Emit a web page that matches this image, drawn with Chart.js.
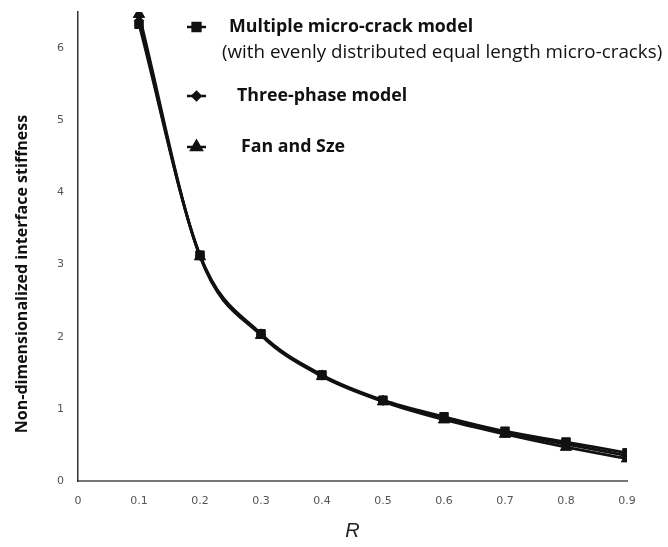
<!DOCTYPE html>
<html>
<head>
<meta charset="utf-8">
<script src="https://cdn.jsdelivr.net/npm/chart.js@4/dist/chart.umd.min.js"></script>
<style>
  html, body { margin: 0; padding: 0; background: #fff; }
  #wrap { width: 668px; height: 547px; }
</style>
</head>
<body>
<div id="wrap"><canvas id="stiffnessChart" width="668" height="547"></canvas></div>
<script>
// R values and stiffness
const rValues = [0.1, 0.2, 0.3, 0.4, 0.5, 0.6, 0.7, 0.8, 0.9];
const multiCrack = [6.33, 3.13, 2.04, 1.47, 1.12, 0.89, 0.69, 0.54, 0.39];
const threePhase = [6.38, 3.12, 2.03, 1.46, 1.11, 0.87, 0.67, 0.51, 0.35];
const fanSze = [6.47, 3.11, 2.02, 1.45, 1.10, 0.85, 0.65, 0.47, 0.31];
const seriesLabels = ['Multiple micro-crack model', 'Three-phase model', 'Fan and Sze'];
const legendNote = '(with evenly distributed equal length micro-cracks)';
const yTitle = 'Non-dimensionalized interface stiffness';

const toPoints = vals => vals.map((v, i) => ({ x: rValues[i], y: v }));

function series(label, vals, style, radius) {
    return {
        label: label,
        data: toPoints(vals),
        borderColor: '#111',
        backgroundColor: '#111',
        borderWidth: 2.8,
        pointStyle: style,
        pointRadius: radius,
        pointHoverRadius: radius,
        pointBorderWidth: 1,
        cubicInterpolationMode: 'monotone',
        fill: false
    };
}

// legend and y title drawn by hand, placed like the original
const insideLegend = {
    id: 'insideLegend',
    afterDraw(chart) {
        const ctx = chart.ctx;
        const rows = [
            { y: 27, tx: 229, style: 'rect', r: 5.5 },
            { y: 96, tx: 237, style: 'rectRot', r: 4 },
            { y: 147, tx: 241, style: 'triangle', r: 6 }
        ];
        ctx.save();
        rows.forEach((row, i) => {
            ctx.strokeStyle = '#111';
            ctx.lineWidth = 2.5;
            ctx.beginPath();
            ctx.moveTo(187, row.y);
            ctx.lineTo(206, row.y);
            ctx.stroke();
            ctx.fillStyle = '#111';
            Chart.helpers.drawPoint(ctx, { pointStyle: row.style, radius: row.r, borderWidth: 1 }, 196.5, row.y);
            ctx.fillStyle = '#111';
            ctx.font = 'bold 17.8px "Open Sans", sans-serif';
            ctx.textBaseline = 'middle';
            ctx.textAlign = 'left';
            ctx.fillText(seriesLabels[i], row.tx, row.y);
        });
        ctx.font = '18.8px "Open Sans", sans-serif';
        ctx.fillText(legendNote, 222, 53);

        ctx.translate(22, 274);
        ctx.rotate(-Math.PI / 2);
        ctx.textAlign = 'center';
        ctx.font = 'bold 16px "Open Sans", sans-serif';
        ctx.fillText(yTitle, 0, 0);
        ctx.restore();
    }
};

const ctxStiffness = document.getElementById('stiffnessChart').getContext('2d');
new Chart(ctxStiffness, {
    type: 'line',
    data: {
        datasets: [
            series(seriesLabels[2], fanSze, 'triangle', 6.5),
            series(seriesLabels[1], threePhase, 'rectRot', 4.5),
            series(seriesLabels[0], multiCrack, 'rect', 6)
        ]
    },
    options: {
        responsive: false,
        animation: false,
        layout: { padding: { top: 12, right: 41, left: 0, bottom: 0 } },
        plugins: {
            legend: { display: false },
            tooltip: { enabled: false }
        },
        scales: {
            x: {
                type: 'linear',
                min: 0,
                max: 0.9,
                afterFit: s => { s.height = 66; },
                grid: { display: false, drawTicks: true, tickLength: 5, tickColor: '#666' },
                border: { color: '#777', width: 2 },
                ticks: {
                    stepSize: 0.1,
                    color: '#555',
                    padding: 9,
                    font: { family: 'DejaVu Sans', size: 11 },
                    callback: v => String(Number(v.toFixed(1)))
                },
                title: {
                    display: true,
                    text: 'R',
                    color: '#222',
                    font: { family: 'Liberation Sans', size: 20, style: 'italic' },
                    padding: { top: 10 }
                }
            },
            y: {
                min: 0,
                max: 6.5,
                afterFit: s => { s.width = 78; s.paddingTop = 0; s.paddingBottom = 0; },
                afterBuildTicks: s => { s.ticks = s.ticks.filter(t => Number.isInteger(t.value)); },
                grid: { display: false, drawTicks: true, tickLength: 5, tickColor: '#666' },
                border: { color: '#333', width: 1.5 },
                ticks: {
                    stepSize: 1,
                    color: '#555',
                    padding: 9,
                    font: { family: 'DejaVu Sans', size: 11 }
                }
            }
        }
    },
    plugins: [insideLegend]
});
</script>
</body>
</html>
